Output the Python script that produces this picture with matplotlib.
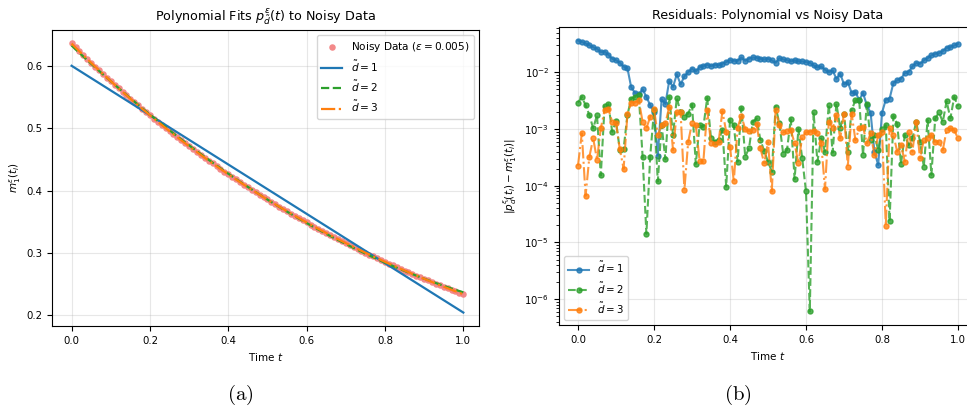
import numpy as np
import matplotlib
matplotlib.use("Agg")
import matplotlib.pyplot as plt

plt.rcParams["mathtext.fontset"] = "dejavusans"

# Sample times t_i = 0.00, 0.01, ..., 1.00
t = np.arange(101) / 100.0

# Observed first moment m_1^eps(t_i)
m_noisy = [
    0.6360, 0.6297, 0.6234, 0.6172, 0.6111, 0.6050, 0.5990, 0.5930, 0.5871, 0.5813,
    0.5755, 0.5697, 0.5641, 0.5585, 0.5529, 0.5474, 0.5420, 0.5366, 0.5313, 0.5260,
    0.5207, 0.5155, 0.5104, 0.5053, 0.5003, 0.4953, 0.4904, 0.4855, 0.4807, 0.4759,
    0.4712, 0.4665, 0.4618, 0.4572, 0.4527, 0.4482, 0.4437, 0.4393, 0.4349, 0.4306,
    0.4263, 0.4221, 0.4179, 0.4137, 0.4096, 0.4055, 0.4015, 0.3975, 0.3936, 0.3897,
    0.3858, 0.3819, 0.3781, 0.3744, 0.3707, 0.3670, 0.3633, 0.3597, 0.3561, 0.3526,
    0.3490, 0.3456, 0.3421, 0.3387, 0.3354, 0.3320, 0.3287, 0.3255, 0.3222, 0.3190,
    0.3158, 0.3127, 0.3096, 0.3065, 0.3035, 0.3004, 0.2974, 0.2945, 0.2916, 0.2887,
    0.2858, 0.2829, 0.2801, 0.2773, 0.2746, 0.2719, 0.2692, 0.2665, 0.2638, 0.2612,
    0.2586, 0.2560, 0.2535, 0.2510, 0.2485, 0.2460, 0.2435, 0.2411, 0.2387, 0.2364,
    0.2340,
]

degrees = [1, 2, 3]

# Absolute residuals |p_d(t_i) - m_1(t_i)| per degree
res_d1 = [
    0.0364, 0.0345, 0.0323, 0.0302, 0.0278, 0.0260, 0.0228, 0.0233, 0.0204, 0.0174,
    0.0164, 0.0148, 0.0126, 0.0119, 0.00546, 0.00434, 0.00411, 0.00504, 0.00369, 0.00264,
    0.00204, 0.000340, 0.00336, 0.00278, 0.00705, 0.00553, 0.00923, 0.00616, 0.00851, 0.0101,
    0.0116, 0.0104, 0.0124, 0.0129, 0.0136, 0.0129, 0.0136, 0.0133, 0.0142, 0.0152,
    0.0164, 0.0160, 0.0160, 0.0183, 0.0160, 0.0174, 0.0183, 0.0181, 0.0174, 0.0169,
    0.0174, 0.0163, 0.0148, 0.0178, 0.0169, 0.0164, 0.0156, 0.0164, 0.0156, 0.0156,
    0.0152, 0.0148, 0.0133, 0.0122, 0.0127, 0.0111, 0.0101, 0.0108, 0.00774, 0.00948,
    0.00616, 0.00676, 0.00434, 0.00452, 0.00323, 0.00434, 0.00264, 0.00194, 0.000400, 0.000233,
    0.00194, 0.00331, 0.00345, 0.00650, 0.00724, 0.00774, 0.00973, 0.0101, 0.0127, 0.0146,
    0.0142, 0.0163, 0.0178, 0.0199, 0.0212, 0.0218, 0.0237, 0.0271, 0.0278, 0.0298,
    0.0318,
]
res_d2 = [
    2.94e-3, 3.69e-3, 2.64e-3, 1.76e-3, 1.03e-3, 1.76e-3, 1.52e-4, 2.57e-3, 2.75e-3, 8.98e-4,
    1.38e-3, 4.28e-4, 4.45e-4, 1.76e-3, 3.45e-3, 3.69e-3, 3.95e-3, 3.27e-4, 1.42e-5, 3.27e-4,
    2.16e-3, 1.19e-4, 1.17e-3, 2.94e-4, 3.69e-3, 7.85e-4, 3.54e-3, 1.96e-3, 1.65e-3, 1.88e-3,
    2.71e-3, 2.43e-4, 1.17e-3, 1.10e-3, 3.54e-3, 6.86e-4, 5.99e-4, 6.41e-4, 9.60e-4, 9.70e-5,
    1.44e-3, 1.17e-3, 2.67e-4, 2.37e-3, 3.27e-4, 4.58e-4, 1.34e-3, 1.54e-3, 6.41e-4, 4.11e-4,
    2.67e-4, 1.78e-4, 2.46e-3, 1.26e-3, 3.64e-4, 4.28e-4, 1.50e-3, 1.31e-4, 1.00e-3, 3.06e-4,
    7.95e-5, 6.07e-7, 1.96e-3, 2.67e-4, 6.86e-4, 3.95e-4, 2.71e-3, 3.84e-4, 2.82e-3, 1.03e-3,
    1.88e-3, 4.00e-4, 2.16e-3, 3.22e-3, 3.22e-3, 3.50e-4, 2.82e-3, 6.41e-4, 7.85e-4, 4.28e-4,
    1.00e-3, 1.17e-3, 2.37e-5, 1.71e-3, 1.22e-3, 2.43e-4, 7.85e-4, 5.24e-4, 6.86e-4, 1.34e-3,
    5.99e-4, 2.18e-4, 1.44e-3, 1.56e-4, 1.54e-3, 1.96e-3, 1.34e-3, 3.10e-3, 1.54e-3, 3.69e-3,
    2.53e-3,
]
res_d3 = [
    2.27e-4, 8.39e-4, 6.68e-5, 3.27e-4, 6.86e-4, 2.86e-4, 1.03e-3, 2.16e-3, 2.24e-3, 1.34e-3,
    1.26e-3, 4.45e-4, 1.99e-4, 1.81e-3, 2.94e-3, 2.94e-3, 3.22e-3, 1.34e-3, 1.03e-3, 1.65e-3,
    2.24e-3, 7.85e-4, 1.17e-3, 1.26e-3, 2.46e-3, 4.28e-4, 1.96e-3, 1.96e-3, 8.50e-5, 5.99e-4,
    1.26e-3, 1.17e-3, 2.78e-4, 2.72e-4, 2.16e-3, 5.60e-4, 5.37e-4, 5.99e-4, 2.07e-3, 8.98e-4,
    4.90e-4, 1.19e-4, 1.06e-3, 1.71e-3, 1.00e-3, 9.22e-4, 9.60e-4, 1.21e-3, 4.58e-4, 2.50e-4,
    5.84e-4, 7.95e-5, 2.16e-3, 1.17e-3, 8.70e-4, 9.22e-4, 9.60e-4, 5.60e-4, 2.50e-4, 7.34e-4,
    8.70e-4, 8.98e-4, 9.22e-4, 8.39e-4, 5.60e-4, 8.74e-5, 1.34e-3, 1.03e-3, 1.76e-3, 6.86e-4,
    1.88e-3, 2.18e-4, 1.88e-3, 6.41e-4, 1.03e-3, 1.10e-3, 5.60e-4, 8.39e-4, 3.50e-4, 7.85e-4,
    8.98e-4, 1.99e-5, 1.03e-3, 7.85e-4, 4.00e-4, 5.24e-4, 2.67e-4, 8.98e-4, 4.00e-4, 1.34e-3,
    3.06e-4, 6.41e-4, 6.86e-4, 7.85e-4, 5.99e-4, 5.99e-4, 4.28e-4, 9.60e-4, 1.03e-3, 9.60e-4,
    6.86e-4,
]

W, H = 967, 409
fig = plt.figure(figsize=(W / 100, H / 100), dpi=100)

# Left panel: data and polynomial fits
ax1 = fig.add_axes([52 / W, 1 - 326 / H, 427 / W, 296 / H])
ax1.scatter(t, m_noisy, s=22, color="#f27c7c", alpha=0.9, linewidths=0,
            label=r"Noisy Data ($\varepsilon=0.005$)", zorder=2)
styles = {1: ("C0", "-"), 2: ("C2", "--"), 3: ("C1", "-.")}
for d in degrees:
    coef = np.polyfit(t, m_noisy, d)
    col, ls = styles[d]
    ax1.plot(t, np.polyval(coef, t), color=col, ls=ls, lw=1.6,
             label=rf"$\tilde{{d}}={d}$", zorder=3)
ax1.set_xlim(-0.05, 1.04)
ax1.set_title(r"Polynomial Fits $p^{\varepsilon}_{\tilde{d}}(t)$ to Noisy Data", fontsize=9.2)
ax1.set_xlabel(r"Time $t$", fontsize=7.5)
ax1.set_ylabel(r"$m_1^{\varepsilon}(t_i)$", fontsize=7.5, labelpad=2)
ax1.grid(True, alpha=0.3)
ax1.tick_params(labelsize=7.3)
ax1.legend(loc="upper right", fontsize=7.6)

# Right panel: residuals on log scale
ax2 = fig.add_axes([559 / W, 1 - 325 / H, 418 / W, 298 / H])
res = {1: res_d1, 2: res_d2, 3: res_d3}
for d in degrees:
    col, ls = styles[d]
    ax2.plot(t, res[d], color=col, ls=ls, marker="o", ms=3.6, lw=1.5, alpha=0.8,
             label=rf"$\tilde{{d}}={d}$")
ax2.set_yscale("log")
ax2.set_title("Residuals: Polynomial vs Noisy Data", fontsize=9.2)
ax2.set_xlabel(r"Time $t$", fontsize=7.5)
ax2.set_ylabel(r"$|p^{\varepsilon}_{\tilde{d}}(t_i) - m^{\varepsilon}_1(t_i)|$", fontsize=7.5)
ax2.grid(True, alpha=0.3)
ax2.tick_params(labelsize=7.3)
ax2.legend(loc="lower left", fontsize=7.4)

# Panel captions
fig.text(240 / W, 1 - 395 / H, r"$\mathrm{(a)}$", ha="center", va="center",
         fontsize=15, math_fontfamily="cm")
fig.text(738 / W, 1 - 395 / H, r"$\mathrm{(b)}$", ha="center", va="center",
         fontsize=15, math_fontfamily="cm")

fig.savefig("out.png", dpi=100)
